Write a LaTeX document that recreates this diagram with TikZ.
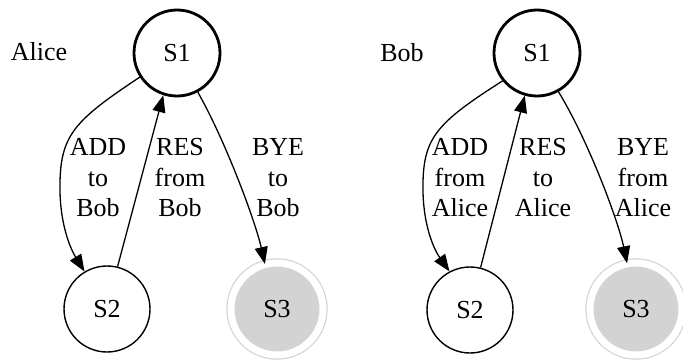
\documentclass[tikz,border=0pt]{standalone}
\usepackage{fontspec}
\setmainfont{Liberation Serif}
\usetikzlibrary{arrows.meta}
\definecolor{lgray}{HTML}{D3D3D3}
\begin{document}
\begin{tikzpicture}[x=1pt,y=-1pt,
  every node/.style={font=\fontsize{26}{30.5}\selectfont},
  state/.style={circle,draw,line width=1.4pt,minimum size=86pt,inner sep=0pt},
  start/.style={state,line width=2.8pt},
  final/.style={circle,draw=lgray,fill=lgray,line width=1.2pt,minimum size=92pt,inner sep=0pt,
    double=white,double distance=7pt},
  edgelabel/.style={align=center,inner sep=0pt},
  tr/.style={-{Triangle[length=17pt,width=13pt]},line width=1.3pt}]
\useasboundingbox (0,0) rectangle (683,361);

% Alice's machine
\node (alice) at (39,52) {Alice};
\node[start] (a1) at (177,53) {S1};
\node[state] (a2) at (107,309) {S2};
\node[final] (a3) at (277,309) {S3};
\draw[tr] (a1.213) .. controls (75,120) and (61,135) .. (60,182)
  .. controls (59,222) and (70,248) .. (a2.121);
\draw[tr] (a2.76) -- (a1.252);
\draw[tr] (a1.298) .. controls (225,140) and (255,220) .. (a3.105);
\node[edgelabel] (la1) at (98,178) {ADD\\to\\Bob};
\node[edgelabel] (la2) at (180,178) {RES\\from\\Bob};
\node[edgelabel] (la3) at (278,178) {BYE\\to\\Bob};

% Bob's machine
\node (bob) at (402,53) {Bob};
\node[start] (b1) at (537,53) {S1};
\node[state] (b2) at (470,310) {S2};
\node[final] (b3) at (636,309) {S3};
\draw[tr] (b1.219) .. controls (438,122) and (424,137) .. (423,182)
  .. controls (422,222) and (433,248) .. (b2.118);
\draw[tr] (b2.76) -- (b1.254);
\draw[tr] (b1.299) .. controls (588,140) and (618,220) .. (b3.101);
\node[edgelabel] (lb1) at (460,178) {ADD\\from\\Alice};
\node[edgelabel] (lb2) at (543,178) {RES\\to\\Alice};
\node[edgelabel] (lb3) at (643,178) {BYE\\from\\Alice};
\end{tikzpicture}
\end{document}
